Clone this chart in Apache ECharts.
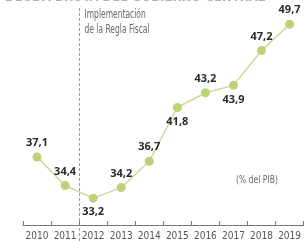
<!DOCTYPE html>
<html>
<head>
<meta charset="utf-8">
<script src="https://cdn.jsdelivr.net/npm/echarts@6/dist/echarts.min.js"></script>
<style>
  html, body { margin: 0; padding: 0; background: #fff; }
  #main { width: 304px; height: 243px; }
</style>
</head>
<body>
<div id="main"></div>
<script>
var years = ['2010', '2011', '2012', '2013', '2014', '2015', '2016', '2017', '2018', '2019'];
var deuda = [37.1, 34.4, 33.2, 34.2, 36.7, 41.8, 43.2, 43.9, 47.2, 49.7];
// donde va cada etiqueta respecto al punto
var labelPos = ['top', 'top', 'bottom', 'top', 'top', 'bottom', 'top', 'bottom', 'top', 'top'];

var narrow = '"Liberation Sans Narrow", "DejaVu Sans Condensed", sans-serif';

var myChart = echarts.init(document.getElementById('main'));

var serieData = [];
for (var i = 0; i < deuda.length; i++) {
    serieData.push({
        value: deuda[i],
        label: { position: labelPos[i] }
    });
}

var option = {
    animation: false,
    title: {
        text: 'DEUDA BRUTA DEL GOBIERNO CENTRAL',
        left: 0,
        top: -14,
        textStyle: { color: '#b0b0b0', fontSize: 13, fontWeight: 'bold', fontFamily: narrow }
    },
    grid: { left: 23, right: 0, top: 0, bottom: 18 },
    xAxis: {
        type: 'category',
        data: years,
        boundaryGap: true,
        axisLine: { lineStyle: { color: '#777', width: 1 } },
        axisTick: { show: true, inside: true, length: 4, lineStyle: { color: '#777' } },
        axisLabel: { color: '#555', fontSize: 10, fontFamily: narrow, margin: 6, interval: 0 }
    },
    yAxis: {
        type: 'value',
        min: 30.65,
        max: 52,
        show: false
    },
    series: [{
        type: 'line',
        data: serieData,
        symbol: 'circle',
        symbolSize: 9,
        lineStyle: { color: '#cadb94', width: 1.5 },
        itemStyle: { color: '#bcd276' },
        label: {
            show: true,
            color: '#2a2a2a',
            fontSize: 11,
            fontWeight: 'bold',
            fontFamily: '"Open Sans", sans-serif',
            distance: 4,
            formatter: function (p) { return String(p.value).replace('.', ','); }
        }
    }]
};
myChart.setOption(option);

// linea de la Regla Fiscal, entre 2011 y 2012
var x1 = myChart.convertToPixel({ xAxisIndex: 0 }, '2011');
var x2 = myChart.convertToPixel({ xAxisIndex: 0 }, '2012');
var xr = Math.round((x1 + x2) / 2) + 0.5;

myChart.setOption({
    graphic: [
        {
            type: 'line',
            shape: { x1: xr, y1: 8, x2: xr, y2: 242 },
            style: { stroke: '#9a9a9a', lineWidth: 1, lineDash: [3, 2] }
        },
        {
            type: 'text',
            x: xr + 5,
            y: 7,
            scaleX: 0.7,
            style: {
                text: 'Implementación\nde la Regla Fiscal',
                fill: '#666',
                font: '12px ' + narrow,
                lineHeight: 15
            }
        },
        {
            type: 'text',
            x: 236,
            y: 175,
            scaleX: 0.85,
            style: { text: '(% del PIB)', fill: '#666', font: '10px ' + narrow }
        }
    ]
});
</script>
</body>
</html>
